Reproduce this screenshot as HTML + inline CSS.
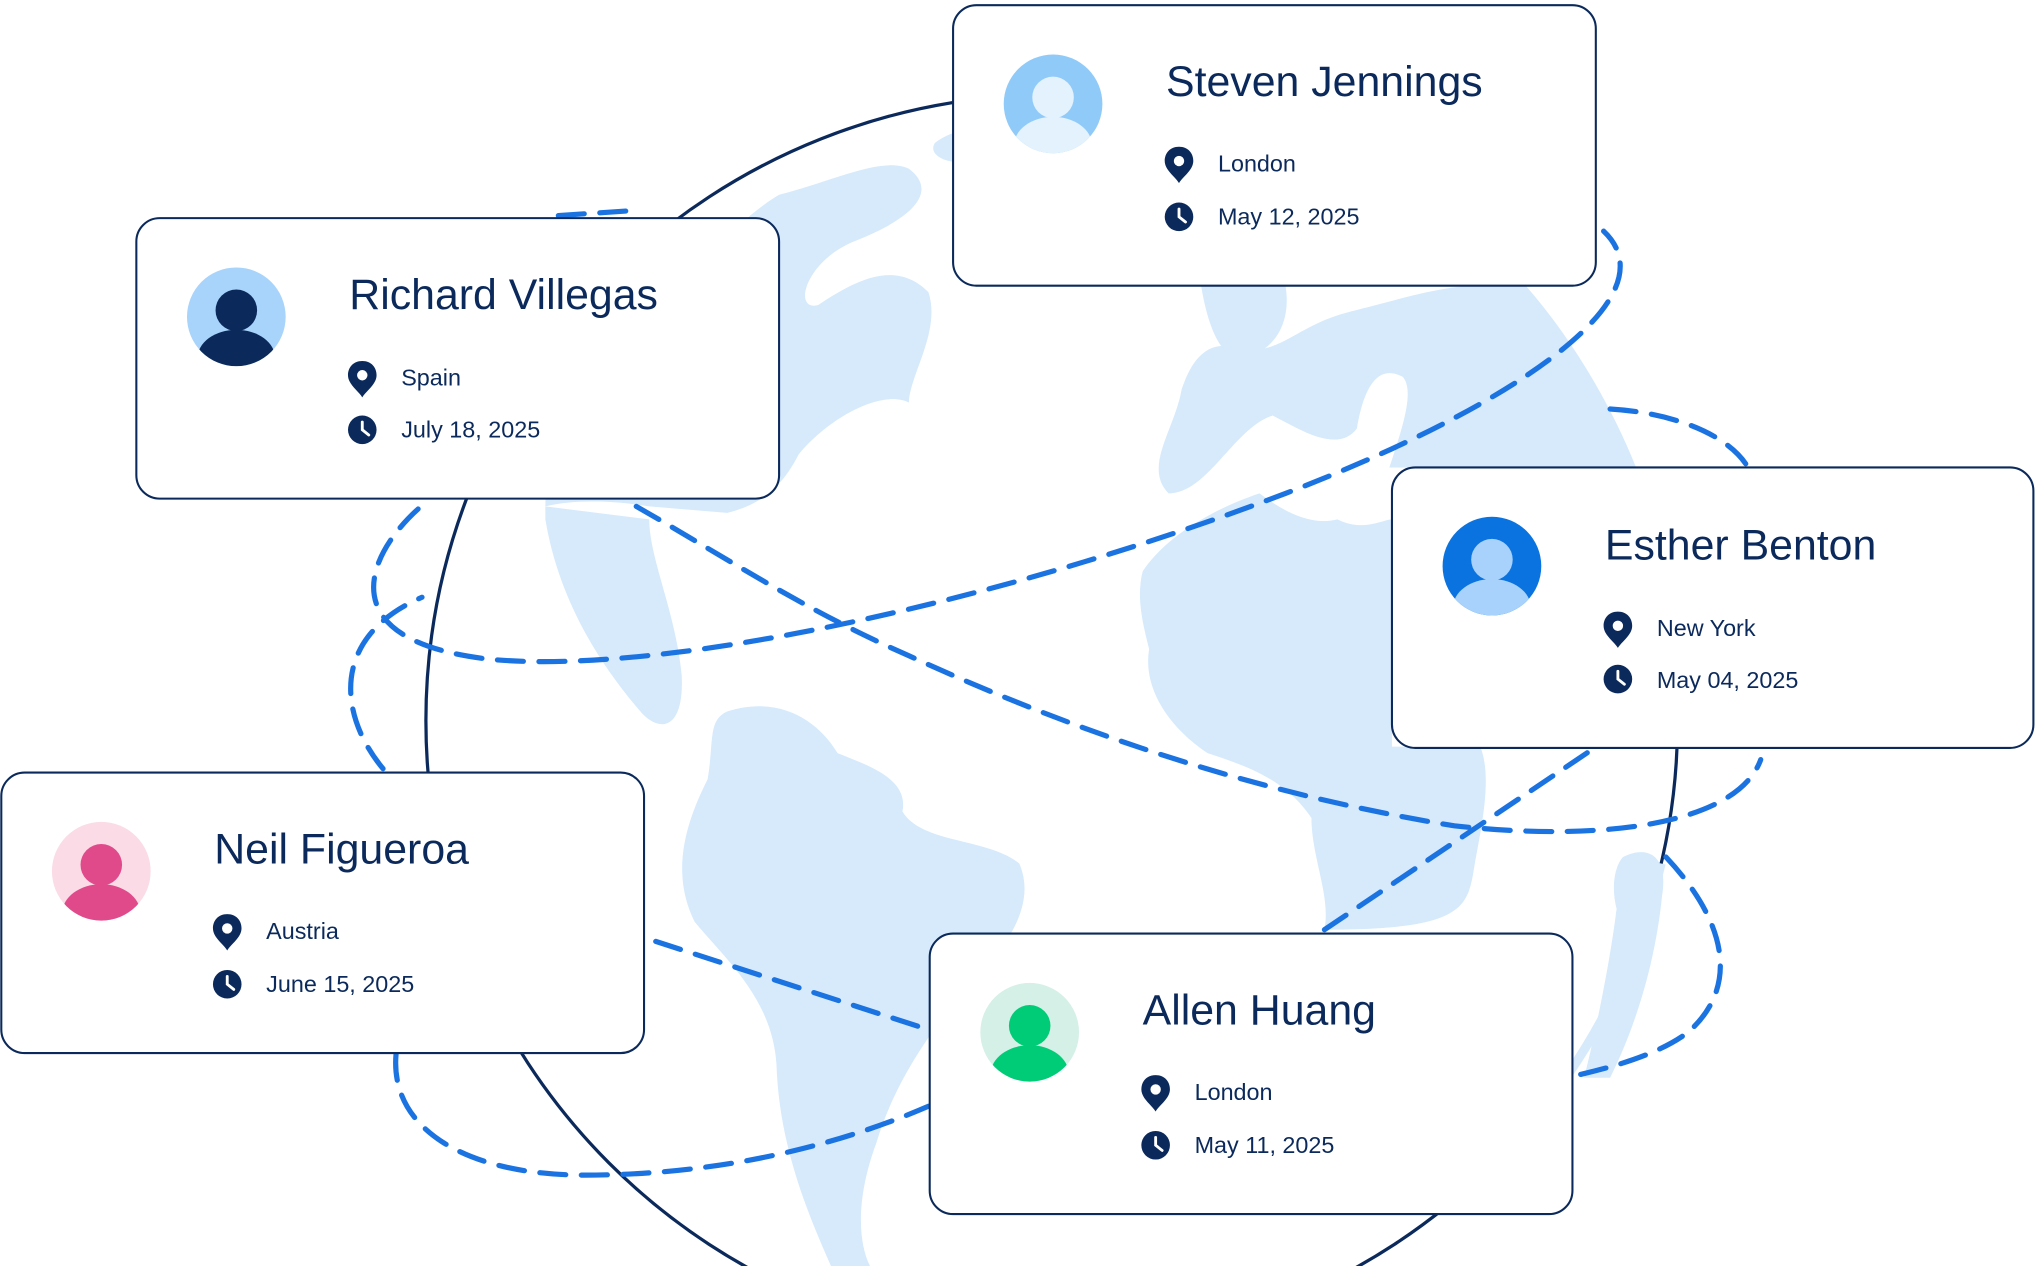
<!DOCTYPE html>
<html><head><meta charset="utf-8"><style>
html,body{margin:0;padding:0;background:#fff;width:2036px;height:1266px;overflow:hidden;}
svg{display:block;overflow:hidden;}
text{font-family:"Liberation Sans",sans-serif;fill:#0b2a5b;}
</style></head><body>
<svg width="2036" height="1266" viewBox="0 0 1568 975" xmlns="http://www.w3.org/2000/svg">
<defs>
<g id="pin"><path d="M0,-12 C-7,-12 -11,-7 -11,-1 C-11,6 -3,11 0,16 C3,11 11,6 11,-1 C11,-7 7,-12 0,-12 Z" fill="#0b2a5b"/><circle cx="0" cy="-1" r="4" fill="#fff"/></g>
<g id="clk"><circle r="11" fill="#0b2a5b"/><path d="M0,-6 V0 L5,4" stroke="#fff" stroke-width="2.2" fill="none" stroke-linecap="round"/></g>
<clipPath id="av"><circle r="38"/></clipPath>
</defs>
<!-- continents -->
<g fill="#d6eafc">
<path d="M720,110 C740,95 760,100 760,120 L740,125 C725,125 715,118 720,110Z"/>
<path d="M600,150 C640,140 680,120 700,130 C720,145 710,165 660,185 C620,200 610,240 630,235 C660,215 690,200 715,225 C725,255 700,290 700,310 C680,300 640,320 615,350 C600,380 580,390 560,395 L500,390 C470,385 440,385 420,390 C420,330 460,280 520,230 C550,190 575,165 600,150Z"/>
<path d="M420,390 L500,400 C500,430 520,470 525,520 C527,560 510,565 495,550 C460,510 430,460 420,400Z"/>
<path d="M560,548 C600,535 630,555 645,580 C670,590 700,600 695,625 C710,650 760,645 785,665 C800,700 770,735 745,760 C720,790 690,830 675,880 C660,920 660,955 670,975 L640,975 C620,930 600,880 598,820 C595,770 560,740 535,710 C515,670 530,630 545,600 C550,570 545,555 560,548Z"/>
<path d="M925,220 L990,220 C995,250 980,270 960,275 C940,280 930,250 925,220Z"/>
<path d="M1140,220 L1175,220 C1210,260 1240,310 1260,360 L1070,360 C1080,330 1090,300 1080,290 C1060,280 1050,300 1045,330 C1030,350 1000,330 980,320 C950,330 930,380 900,380 C880,360 905,330 910,300 C920,270 935,260 960,270 C990,270 1000,250 1040,240 C1080,230 1110,220 1140,220Z"/>
<path d="M880,440 C900,410 940,390 970,380 C990,395 1010,405 1030,400 C1050,410 1065,400 1072,400 L1072,575 L1140,575 C1150,600 1140,640 1135,670 C1130,700 1125,716 1020,716 C1025,690 1010,660 1010,630 C990,600 960,590 930,580 C900,560 880,530 885,500 C880,480 875,460 880,440Z"/>
<path d="M1250,660 C1270,650 1285,660 1280,690 C1275,740 1260,790 1240,830 L1220,830 C1230,790 1240,740 1245,700 C1240,680 1245,665 1250,660Z"/>
</g>
<!-- globe -->
<circle cx="810" cy="555" r="482" fill="none" stroke="#0b2a5b" stroke-width="2.5"/>
<g fill="none" stroke="#d6eafc" stroke-width="7">
<path d="M1148.6,212 A482,482 0 0 1 1255,370"/>
<path d="M1279.3,665 A482,482 0 0 1 1205.9,830"/>
</g>
<!-- dashed -->
<g fill="none" stroke="#1a73e0" stroke-width="4" stroke-dasharray="20 12" stroke-linecap="round">
<path d="M322,392 C280,430 255,495 380,508 C520,520 780,460 990,380 C1160,315 1290,230 1235,178"/>
<path d="M430,166 L490,162"/>
<path d="M490,390 C560,430 620,470 700,505 C820,560 960,610 1120,636 C1250,650 1340,630 1356,585"/>
<path d="M1240,315 C1290,318 1330,335 1345,358"/>
<path d="M295,592 C260,550 255,490 325,460"/>
<path d="M505,725 L712,792"/>
<path d="M305,812 C300,870 360,905 450,905 C560,905 650,880 715,852"/>
<path d="M1020,716 L1225,578"/>
<path d="M1283,660 C1330,710 1340,760 1300,795 C1280,810 1250,820 1215,828"/>
</g>
<!-- cards -->
<g stroke="#0b2a5b" stroke-width="1.6" fill="#fff">
<rect x="734" y="4" width="495" height="216" rx="18"/>
<rect x="105" y="168" width="495" height="216" rx="18"/>
<rect x="1072" y="360" width="494" height="216" rx="18"/>
<rect x="1" y="595" width="495" height="216" rx="18"/>
<rect x="716" y="719" width="495" height="216" rx="18"/>
</g>
<!-- avatars -->
<g transform="translate(811,80)"><circle r="38" fill="#90caf9"/><g clip-path="url(#av)" fill="#e3f2fd"><circle cx="0" cy="-5" r="16"/><ellipse cx="0" cy="32" rx="30" ry="22"/></g></g>
<g transform="translate(182,244)"><circle r="38" fill="#a8d4fb"/><g clip-path="url(#av)" fill="#0b2a5b"><circle cx="0" cy="-5" r="16"/><ellipse cx="0" cy="32" rx="30" ry="22"/></g></g>
<g transform="translate(1149,436)"><circle r="38" fill="#0a73e0"/><g clip-path="url(#av)" fill="#a8d1fb"><circle cx="0" cy="-5" r="16"/><ellipse cx="0" cy="32" rx="30" ry="22"/></g></g>
<g transform="translate(78,671)"><circle r="38" fill="#fadbe6"/><g clip-path="url(#av)" fill="#e04a8a"><circle cx="0" cy="-5" r="16"/><ellipse cx="0" cy="32" rx="30" ry="22"/></g></g>
<g transform="translate(793,795)"><circle r="38" fill="#d5f0e6"/><g clip-path="url(#av)" fill="#00cc77"><circle cx="0" cy="-5" r="16"/><ellipse cx="0" cy="32" rx="30" ry="22"/></g></g>
<!-- text -->
<g font-size="33">
<text x="898" y="74">Steven Jennings</text>
<text x="269" y="238">Richard Villegas</text>
<text x="1236" y="431">Esther Benton</text>
<text x="165" y="665">Neil Figueroa</text>
<text x="880" y="789">Allen Huang</text>
</g>
<g font-size="18">
<text x="938" y="132">London</text><text x="938" y="173">May 12, 2025</text>
<text x="309" y="297">Spain</text><text x="309" y="337">July 18, 2025</text>
<text x="1276" y="490">New York</text><text x="1276" y="530">May 04, 2025</text>
<text x="205" y="723">Austria</text><text x="205" y="764">June 15, 2025</text>
<text x="920" y="847">London</text><text x="920" y="888">May 11, 2025</text>
</g>
<use href="#pin" x="908" y="125"/><use href="#clk" x="908" y="167"/>
<use href="#pin" x="279" y="290"/><use href="#clk" x="279" y="331"/>
<use href="#pin" x="1246" y="483"/><use href="#clk" x="1246" y="523"/>
<use href="#pin" x="175" y="716"/><use href="#clk" x="175" y="758"/>
<use href="#pin" x="890" y="840"/><use href="#clk" x="890" y="882"/>
</svg>
</body></html>
